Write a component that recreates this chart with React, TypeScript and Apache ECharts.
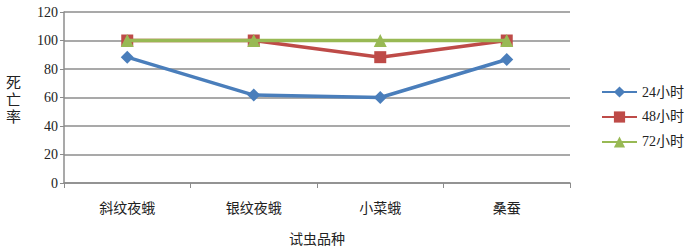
import React, { useEffect, useRef } from "react";
import * as echarts from "echarts";

const categories = ["斜纹夜蛾", "银纹夜蛾", "小菜蛾", "桑蚕"];
const h24 = [88.3, 61.7, 60, 86.7];
const h48 = [100, 100, 88.3, 100];
const h72 = [100, 100, 100, 100];
const seriesNames = ["24小时", "48小时", "72小时"];
const colors = ["#4A7EBB", "#BE4B48", "#98B954"];

const FONT = "'Liberation Serif', 'Noto Sans CJK SC', serif";

export default function App() {
  const ref = useRef<HTMLDivElement>(null);
  useEffect(() => {
    if (!ref.current) return;
    const chart = echarts.init(ref.current, undefined, { renderer: "svg" });
    const data = [h24, h48, h72];
    const symbols = ["diamond", "rect", "triangle"];
    const sizes = [13, 12, 13];
    chart.setOption({
      animation: false,
      backgroundColor: "#fff",
      textStyle: { fontFamily: FONT },
      grid: { left: 64, right: 117, top: 12, bottom: 65, outerBoundsMode: "none", containLabel: false },
      legend: {
        orient: "vertical",
        left: 601,
        top: 85,
        itemWidth: 35,
        itemHeight: 14,
        itemGap: 11,
        padding: 0,
        textStyle: { fontSize: 14, color: "#222", fontFamily: FONT },
        data: seriesNames,
      },
      xAxis: {
        type: "category",
        data: categories,
        boundaryGap: true,
        name: "试虫品种",
        nameLocation: "middle",
        nameGap: 49,
        nameTextStyle: { fontSize: 14, color: "#222", fontFamily: FONT },
        axisLine: { lineStyle: { color: "#8c8c8c", width: 1.5 } },
        axisTick: { show: true, length: 5, inside: false, lineStyle: { color: "#8c8c8c" } },
        axisLabel: { fontSize: 14, color: "#222", margin: 18, fontFamily: FONT },
      },
      yAxis: {
        type: "value",
        min: 0,
        max: 120,
        interval: 20,
        axisLine: { show: true, lineStyle: { color: "#8c8c8c", width: 1.5 } },
        axisTick: { show: true, length: 4, lineStyle: { color: "#8c8c8c" } },
        axisLabel: { fontSize: 14, color: "#222", margin: 6, fontFamily: FONT },
        splitLine: { lineStyle: { color: "#8c8c8c", width: 1.5 } },
      },
      graphic: [
        {
          type: "text",
          left: 6,
          top: 74,
          style: {
            text: "死\n亡\n率",
            fontSize: 15,
            lineHeight: 17,
            fill: "#222",
            fontFamily: FONT,
          },
        },
      ],
      series: data.map((d, i) => ({
        name: seriesNames[i],
        type: "line",
        data: d,
        symbol: symbols[i],
        symbolSize: sizes[i],
        lineStyle: { width: 3.5, color: colors[i] },
        itemStyle: { color: colors[i] },
        z: 2 + i,
      })),
    });
    return () => chart.dispose();
  }, []);
  return <div ref={ref} style={{ width: 687, height: 248, position: "absolute", left: 0, top: 0 }} />;
}
